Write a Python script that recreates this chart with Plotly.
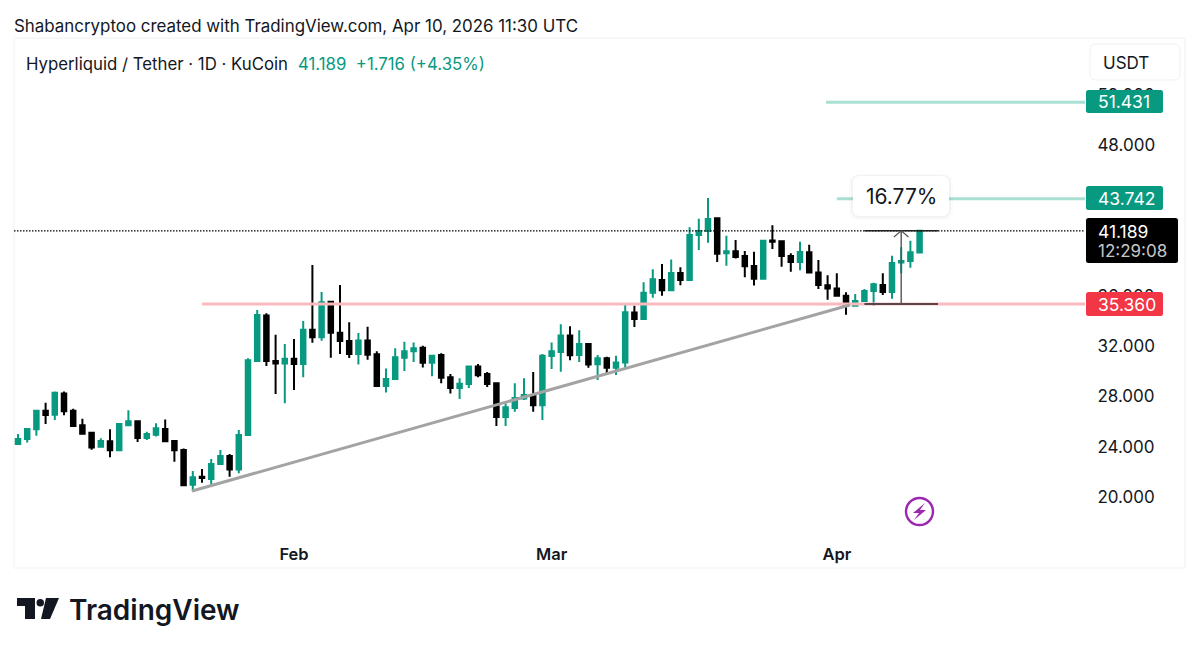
import pandas as pd
import plotly.graph_objects as go

first_day = "2026-01-02"
opens = [24.22,24.62,25.39,26.87,26.55,28.25,26.87,25.71,25.12,24.01,24.43,23.72,25.71,26.03,24.70,24.96,25.42,24.46,23.74,20.98,
         21.62,21.43,22.63,23.27,22.18,24.94,30.83,34.46,30.83,30.62,31.01,30.59,33.32,32.71,35.55,33.08,32.42,31.39,32.47,31.36,
         28.84,29.39,31.09,31.60,31.89,30.69,31.31,29.53,28.68,29.00,30.40,29.79,29.05,26.37,27.08,27.85,28.12,27.30,31.23,31.55,
         32.85,31.31,32.18,30.56,31.04,30.30,30.70,34.68,34.17,36.27,37.28,36.46,37.84,37.28,40.86,41.18,42.19,39.40,39.56,39.19,
         38.39,37.38,40.43,40.36,39.19,38.71,39.48,37.87,36.85,36.61,36.03,35.23,35.60,36.40,36.88,36.32,38.68,38.79,39.473]
highs = [25.02,25.42,26.90,27.51,28.39,28.39,27.03,26.24,25.15,24.67,25.39,25.87,26.90,26.11,25.20,25.87,26.18,24.48,23.87,22.07,
         22.23,23.03,23.74,23.42,25.33,31.04,34.89,34.62,32.92,32.18,32.58,34.01,38.47,36.32,35.58,36.88,33.91,33.06,33.56,31.60,
         30.24,31.84,32.37,32.31,32.05,31.28,31.44,29.79,29.45,30.43,30.59,29.95,29.07,27.46,29.05,29.45,29.95,31.39,32.31,33.75,
         33.59,33.27,32.23,31.31,31.17,31.25,35.42,35.23,37.09,38.13,38.55,38.90,38.29,41.47,42.16,43.81,42.27,40.81,40.46,39.59,
         39.53,40.46,41.63,40.38,39.40,40.33,40.09,38.87,37.65,37.81,36.30,36.16,36.56,37.06,37.81,39.21,39.88,40.41,41.25]
lows = [24.14,24.33,24.88,25.81,26.13,26.50,25.62,24.99,23.77,23.98,23.16,23.70,25.65,24.38,24.54,24.81,24.38,22.81,20.87,20.45,
        21.14,20.87,22.60,21.62,21.89,24.90,30.80,30.43,28.20,27.46,28.52,29.53,32.29,32.45,31.09,31.39,31.07,30.54,30.93,28.81,
        28.33,29.36,30.03,30.75,30.32,29.61,29.05,28.25,27.80,28.68,29.53,28.76,25.65,25.65,26.79,27.72,26.79,26.13,30.19,29.98,
        30.88,30.75,30.30,29.32,29.79,29.71,30.24,33.54,34.15,35.87,36.03,36.43,36.85,37.25,39.67,40.25,38.71,38.42,38.98,37.49,
        36.83,37.33,39.75,38.34,37.94,38.05,37.81,36.56,35.71,35.95,34.52,35.20,35.52,35.23,36.08,35.79,37.81,38.26,39.45]
closes = [24.62,25.42,26.87,26.53,28.31,26.82,25.65,25.04,23.95,24.46,23.72,25.81,26.03,24.70,25.02,25.47,24.43,23.72,20.93,21.57,
          21.51,22.63,23.27,22.18,24.94,30.88,34.49,30.83,30.62,31.01,30.59,33.32,32.71,35.50,33.08,32.42,31.39,32.47,31.33,28.84,
          29.39,31.12,31.60,31.84,30.69,31.25,29.50,28.68,29.02,30.40,29.69,29.00,26.37,27.14,27.88,28.12,27.30,31.25,31.60,32.85,
          31.28,32.18,30.54,31.04,30.30,30.70,34.70,34.17,36.27,37.33,36.46,37.84,37.28,40.86,41.18,42.13,39.37,39.56,39.11,38.37,
          37.38,40.41,40.33,39.19,38.71,39.51,37.87,36.88,36.61,36.03,35.29,35.60,36.40,36.93,36.32,38.63,38.79,39.48,41.189]

price_ticks = [20, 24, 28, 32, 36, 48, 52]
month_ticks = ["2026-02-01", "2026-03-01", "2026-04-01"]

last_price = 41.189
target_top = 51.431
target_mid = 43.742
support = 35.360
trend_x = ["2026-01-20 22:00", "2026-04-02 10:00"]
trend_y = [20.48, 35.29]
support_start = "2026-01-22"
target_top_start = "2026-03-30 20:00"
target_mid_start = "2026-04-01"
measure_x = "2026-04-08"
measure_span = ["2026-04-04", "2026-04-12"]
arrow_x = ["2026-04-07 05:00", "2026-04-08", "2026-04-08 19:00"]
arrow_y = [40.70, 41.189, 40.70]

GREEN = "#089981"
PALE_GREEN = "#a9e0d4"
PALE_RED = "#fab9be"
RED = "#f23645"
INK = "#131722"
FONT = "Inter"

# page layout in pixels
W, H = 1200, 652
L, R, T, B = 14, 1085, 38, 538
DAY_PX = 9.2
DAY0_PX = 18


def xp(px):
    return (px - L) / (R - L)


def yp(py):
    return (B - py) / (B - T)


def round_rect(x0, y0, x1, y1, r):
    a, b, c, d = xp(x0), xp(x1), yp(y0), yp(y1)
    rx, ry = r / (R - L), r / (B - T)
    return (f"M{a+rx},{c} L{b-rx},{c} Q{b},{c} {b},{c-ry} L{b},{d+ry} Q{b},{d} {b-rx},{d} "
            f"L{a+rx},{d} Q{a},{d} {a},{d+ry} L{a},{c-ry} Q{a},{c} {a+rx},{c} Z")


def poly(points):
    return "M" + " L".join(f"{xp(x)},{yp(y)}" for x, y in points) + " Z"


def box(x0, y0, x1, y1, r, fill, line="rgba(0,0,0,0)", lw=0):
    return dict(type="path", xref="paper", yref="paper", path=round_rect(x0, y0, x1, y1, r),
                fillcolor=fill, line=dict(color=line, width=lw), layer="above")


def label(text, px, py, size, color=INK, anchor="left", weight=None):
    f = dict(family=FONT, size=size, color=color)
    if weight:
        f["weight"] = weight
    return dict(text=text, xref="paper", yref="paper", x=xp(px), y=yp(py), xanchor=anchor,
                yanchor="middle", showarrow=False, font=f)


dates = pd.date_range(first_day, periods=len(closes), freq="D")
x_start = pd.Timestamp(first_day) + pd.Timedelta(days=(L - DAY0_PX) / DAY_PX)
x_end = pd.Timestamp(first_day) + pd.Timedelta(days=(R - DAY0_PX) / DAY_PX)
px_per_price = 12.56
y_low = 20 - (B - 497) / px_per_price
y_high = 20 + (497 - T) / px_per_price

fig = go.Figure()
fig.add_trace(go.Candlestick(
    x=dates, open=opens, high=highs, low=lows, close=closes,
    increasing=dict(line=dict(color=GREEN, width=2), fillcolor=GREEN),
    decreasing=dict(line=dict(color="#000000", width=2), fillcolor="#000000"),
    whiskerwidth=0, showlegend=False, hoverinfo="skip",
))


def line(x, y, color, width, dash="solid"):
    fig.add_trace(go.Scatter(x=x, y=y, mode="lines", line=dict(color=color, width=width, dash=dash),
                             showlegend=False, hoverinfo="skip"))


line([support_start, x_end], [support, support], PALE_RED, 3)
line([target_top_start, x_end], [target_top, target_top], PALE_GREEN, 3)
line([target_mid_start, x_end], [target_mid, target_mid], PALE_GREEN, 3)
line([x_start, x_end], [last_price, last_price], "#000000", 1.3, "1.5px,1.5px")
line(trend_x, trend_y, "#a3a3a3", 3)
line(measure_span, [last_price, last_price], "#222222", 1.5)
line(measure_span, [support, support], "#222222", 1.5)
line([measure_x, measure_x], [support, last_price], "#555555", 1.4)
line(arrow_x, arrow_y, "#555555", 1.2)

shapes = [
    dict(type="rect", xref="paper", yref="paper", x0=xp(14), x1=xp(1185), y0=yp(568), y1=yp(38),
         line=dict(color="#eff1f3", width=1), fillcolor="rgba(0,0,0,0)", layer="below"),
    box(1090, 44, 1180, 80, 6, "#ffffff", "#f0f1f3", 1),
    box(1086, 90, 1163, 113, 2.5, GREEN),
    box(1086, 186, 1163, 210, 2.5, GREEN),
    box(1086, 218, 1178, 263, 2.5, "#000000"),
    box(1086, 292, 1163, 316, 2.5, RED),
    box(849, 174, 953, 220, 10, "rgba(0,0,0,0.015)"),
    box(851, 175, 951, 218, 9, "rgba(0,0,0,0.03)"),
    box(853, 176, 949, 216, 7, "#ffffff"),
    dict(type="circle", xref="paper", yref="paper", x0=xp(906), x1=xp(933), y0=yp(525), y1=yp(498),
         line=dict(color="#9c27b0", width=2.4), fillcolor="#ffffff", layer="above"),
    dict(type="path", xref="paper", yref="paper", layer="above", fillcolor="#9c27b0", line=dict(width=0),
         path=poly([(925, 503), (913, 513), (919, 513), (914, 520), (926, 510), (920, 510)])),
    dict(type="path", xref="paper", yref="paper", layer="above", fillcolor="#131722", line=dict(width=0),
         path=poly([(17, 598), (35, 598), (35, 619), (25, 619), (25, 606), (17, 606)])),
    dict(type="circle", xref="paper", yref="paper", x0=xp(36.5), x1=xp(44), y0=yp(606.5), y1=yp(599),
         fillcolor="#131722", line=dict(width=0), layer="above"),
    dict(type="path", xref="paper", yref="paper", layer="above", fillcolor="#131722", line=dict(width=0),
         path=poly([(46, 598), (59, 598), (50, 619), (41, 619)])),
]

annotations = [
    label("Shabancryptoo created with TradingView.com, Apr 10, 2026 11:30 UTC", 12, 25.5, 16.9),
    label("Hyperliquid / Tether · 1D · KuCoin", 24, 63.5, 16.8),
    label("41.189&nbsp;&nbsp;+1.716 (+4.35%)", 296, 63.5, 16.8, GREEN),
    label("USDT", 1101, 62.5, 17),
    label(f"{target_top:.3f}", 1096, 101.5, 17.5, "#ffffff"),
    label(f"{target_mid:.3f}", 1096, 198.5, 17.5, "#ffffff"),
    label(f"{last_price:.3f}", 1096, 231, 17.5, "#ffffff"),
    label("12:29:08", 1096, 251, 17, "#c8c8c8"),
    label(f"{support:.3f}", 1096, 304.5, 17.5, "#ffffff"),
    label("16.77%", 901, 197, 21, INK, "center"),
    label("TradingView", 67, 610, 28, "#131722", "left", 600),
]

fig.update_layout(
    width=W, height=H, autosize=False,
    margin=dict(l=L, r=W - R, t=T, b=H - B, pad=0),
    paper_bgcolor="#ffffff", plot_bgcolor="#ffffff",
    boxgap=0.3,
    showlegend=False,
    font=dict(family=FONT, color=INK),
    shapes=shapes, annotations=annotations,
    xaxis=dict(
        type="date", range=[x_start, x_end], rangeslider=dict(visible=False),
        showgrid=False, zeroline=False, showline=False,
        tickmode="array", tickvals=month_ticks, ticktext=["Feb", "Mar", "Apr"],
        ticks="outside", ticklen=1, tickcolor="rgba(0,0,0,0)",
        tickfont=dict(family=FONT, size=16.5, color=INK, weight=600),
    ),
    yaxis=dict(
        side="right", range=[y_low, y_high], showgrid=False, zeroline=False, showline=False,
        tickmode="array", tickvals=price_ticks, tickformat=".3f",
        ticks="outside", ticklen=8, tickcolor="rgba(0,0,0,0)",
        tickfont=dict(family=FONT, size=17, color=INK),
    ),
)

fig.write_html("out.html", config=dict(displayModeBar=False),
               post_script="document.body.style.margin='0';document.body.style.overflow='hidden';")
